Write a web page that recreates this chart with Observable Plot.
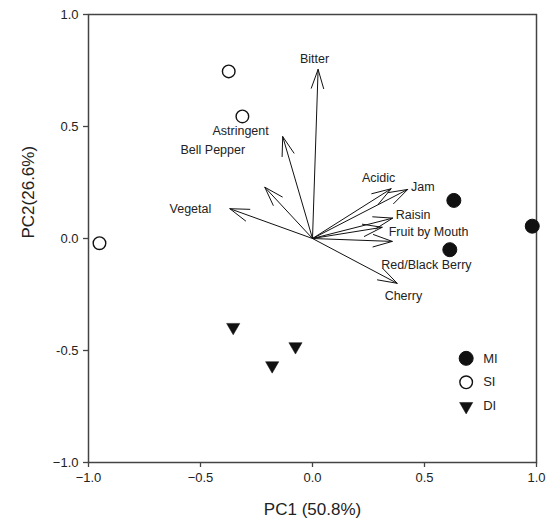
<!DOCTYPE html>
<html>
<head>
<meta charset="utf-8">
<script src="https://cdn.jsdelivr.net/npm/d3@7"></script>
<script src="https://cdn.jsdelivr.net/npm/@observablehq/plot@0.6"></script>
<style>
  html, body { margin: 0; padding: 0; background: #fff; }
  #chart { width: 550px; height: 520px; }
  svg { font-family: "Liberation Sans Narrow", "Arial Narrow", "Liberation Sans", Arial, sans-serif; }
</style>
</head>
<body>
<div id="chart"></div>
<script>
// ---- data ----
const attributes = ["Bitter", "Astringent", "Bell Pepper", "Vegetal", "Acidic", "Jam", "Raisin", "Fruit by Mouth", "Red/Black Berry", "Cherry"];
const loadingPC1 = [0.025, -0.133, -0.213, -0.369, 0.351, 0.425, 0.358, 0.311, 0.356, 0.378];
const loadingPC2 = [0.755, 0.455, 0.229, 0.133, 0.222, 0.219, 0.091, 0.050, -0.013, -0.200];
// label anchor positions (data units)
const labelPC1 = [0.009, -0.321, -0.445, -0.545, 0.295, 0.440, 0.372, 0.340, 0.307, 0.322];
const labelPC2 = [0.800, 0.478, 0.395, 0.133, 0.272, 0.228, 0.107, 0.027, -0.117, -0.255];
const labelAnchor = ["middle", "middle", "middle", "middle", "middle", "start", "start", "start", "start", "start"];

const groups = ["MI", "SI", "DI"];
const scoreGroup = ["MI", "MI", "MI", "SI", "SI", "SI", "DI", "DI", "DI"];
const scorePC1 = [0.631, 0.613, 0.981, -0.374, -0.313, -0.951, -0.354, -0.180, -0.076];
const scorePC2 = [0.170, -0.050, 0.055, 0.746, 0.545, -0.021, -0.396, -0.567, -0.482];

const xTicks = [-1, -0.5, 0, 0.5, 1];
const xTickLabels = ["\u22121.0", "\u22120.5", "0.0", "0.5", "1.0"];
const yTicks = [-1, -0.5, 0, 0.5, 1];
const yTickLabels = ["\u22121.0", "-0.5", "0.0", "0.5", "1.0"];
const xTitle = "PC1 (50.8%)";
const yTitle = "PC2(26.6%)";

// ---- build tables ----
const loadings = attributes.map((name, i) => ({name, x: loadingPC1[i], y: loadingPC2[i], lx: labelPC1[i], ly: labelPC2[i], anchor: labelAnchor[i]}));
const scores = scoreGroup.map((g, i) => ({group: g, x: scorePC1[i], y: scorePC2[i]}));

const style = {
  MI: {symbol: "circle", fill: "#111", stroke: "#111", r: 7, strokeWidth: 1, rotate: 0},
  SI: {symbol: "circle", fill: "white", stroke: "#111", r: 6.3, strokeWidth: 1.4, rotate: 0},
  DI: {symbol: "triangle", fill: "#111", stroke: "#111", r: 4.9, strokeWidth: 0.5, rotate: 180}
};

// legend (placed inside plot area, in data units)
const legendX = 0.686, legendY0 = -0.535, legendStep = -0.107;
const legend = groups.map((g, i) => ({group: g, x: legendX, y: legendY0 + i * legendStep}));

const marks = [
  Plot.frame({stroke: "#444", strokeWidth: 1.5}),
  Plot.axisX({ticks: xTicks, tickFormat: (d) => xTickLabels[xTicks.indexOf(d)], tickSize: 5, tickPadding: 5, fontSize: 13, label: null, stroke: "#444", strokeWidth: 1.3, fill: "#222"}),
  Plot.axisY({ticks: yTicks, tickFormat: (d) => yTickLabels[yTicks.indexOf(d)], tickSize: 5, tickPadding: 5, fontSize: 13, label: null, stroke: "#444", strokeWidth: 1.3, fill: "#222"}),
  Plot.text([xTitle], {frameAnchor: "bottom", dy: 47, fontSize: 17, fill: "#222", lineAnchor: "middle"}),
  Plot.text([yTitle], {frameAnchor: "left", dx: -60, rotate: -90, fontSize: 17, fill: "#222", lineAnchor: "middle"}),
  Plot.arrow(loadings, {x1: () => 0, y1: () => 0, x2: "x", y2: "y", stroke: "#111", strokeWidth: 1, headLength: 30, headAngle: 36}),
  ...["start", "middle"].map((a) => Plot.text(loadings.filter((d) => d.anchor === a), {x: "lx", y: "ly", text: "name", textAnchor: a, fontSize: 12.5, fill: "#222"}))
];

for (const g of groups) {
  const s = style[g];
  const opts = {x: "x", y: "y", symbol: () => s.symbol, r: s.r, fill: s.fill, stroke: s.stroke, strokeWidth: s.strokeWidth, rotate: s.rotate};
  marks.push(Plot.dot(scores.filter((d) => d.group === g), opts));
  marks.push(Plot.dot(legend.filter((d) => d.group === g), opts));
}
marks.push(Plot.text(legend, {x: "x", y: "y", text: "group", dx: 17, textAnchor: "start", fontSize: 13, fill: "#222"}));

const chart = Plot.plot({
  width: 550,
  height: 520,
  marginLeft: 88,
  marginRight: 14,
  marginTop: 14,
  marginBottom: 58,
  x: {domain: [-1, 1]},
  y: {domain: [-1, 1]},
  symbol: {domain: ["circle", "triangle"], range: ["circle", "triangle"]},
  marks
});
document.getElementById("chart").appendChild(chart);
</script>
</body>
</html>
